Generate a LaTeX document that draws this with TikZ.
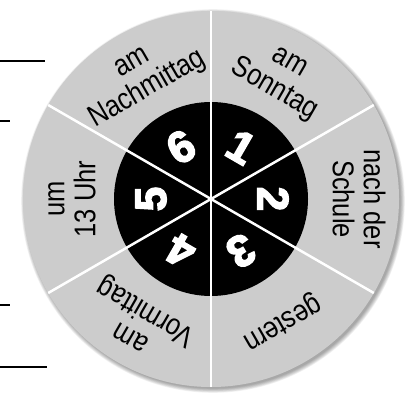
\documentclass[tikz,border=0pt]{standalone}
\usepackage{fontspec}
\setmainfont{Liberation Sans}[FakeStretch=0.85]
\newfontfamily\numfont{Liberation Sans Bold}[FakeBold=3.5]
\usetikzlibrary{calc}
\definecolor{ringgray}{HTML}{CCCCCC}
\begin{document}
\begin{tikzpicture}[x=1pt,y=1pt,
  lbl/.style={font=\fontsize{30}{31}\selectfont, align=center, inner sep=0pt},
  num/.style={font=\numfont\fontsize{44}{44}\selectfont, text=white, inner sep=0pt},
  divider/.style={draw=white, line width=2.5pt},
  rulestroke/.style={draw=black, line width=2pt}]
\useasboundingbox (0,0) rectangle (411,394);
\coordinate (C) at (211,195);
% soft shadow
\foreach \i in {1,...,8}{
  \fill[black, opacity=0.05] ($(C)+(2,-2)$) circle ({187+\i*0.6});
}
\fill[ringgray] (C) circle (188);
\fill[black] (C) circle (97);
\foreach \a in {30,90,...,330}{
  \coordinate (E\a) at ($(C)+(\a:188)$);
  \draw[divider] (C) -- (E\a);
}
% outer labels
\node[lbl, rotate=-30]  (sonntag) at ($(C)+(60:140)$)  {am\\Sonntag};
\node[lbl, rotate=-90]  (schule)  at ($(C)+(0:148)$)   {nach der\\Schule};
\node[lbl, rotate=-150] (gestern) at ($(C)+(-60:142)$) {gestern};
\node[lbl, rotate=150]  (vormit)  at ($(C)+(-120:142)$){am\\Vormittag};
\node[lbl, rotate=90]   (uhr)     at ($(C)+(180:139)$) {um\\13 Uhr};
\node[lbl, rotate=30]   (nachmit) at ($(C)+(120:140)$) {am\\Nachmittag};
% numbers
\node[num, rotate=-30]  (n1) at ($(C)+(60:60)$)   {1};
\node[num, rotate=-90]  (n2) at ($(C)+(0:62)$)    {2};
\node[num, rotate=-150] (n3) at ($(C)+(-60:60)$)  {3};
\node[num, rotate=150]  (n4) at ($(C)+(-120:60)$) {4};
\node[num, rotate=90]   (n5) at ($(C)+(180:60)$)  {5};
\node[num, rotate=30]   (n6) at ($(C)+(120:60)$)  {6};
% answer lines on the left
\coordinate (l1a) at (0,333); \coordinate (l1b) at (45,333);
\coordinate (l2a) at (0,273); \coordinate (l2b) at (10,273);
\coordinate (l3a) at (0,89);  \coordinate (l3b) at (10,89);
\coordinate (l4a) at (0,27);  \coordinate (l4b) at (47,27);
\draw[rulestroke] (l1a) -- (l1b);
\draw[rulestroke] (l2a) -- (l2b);
\draw[rulestroke] (l3a) -- (l3b);
\draw[rulestroke] (l4a) -- (l4b);
\end{tikzpicture}
\end{document}
